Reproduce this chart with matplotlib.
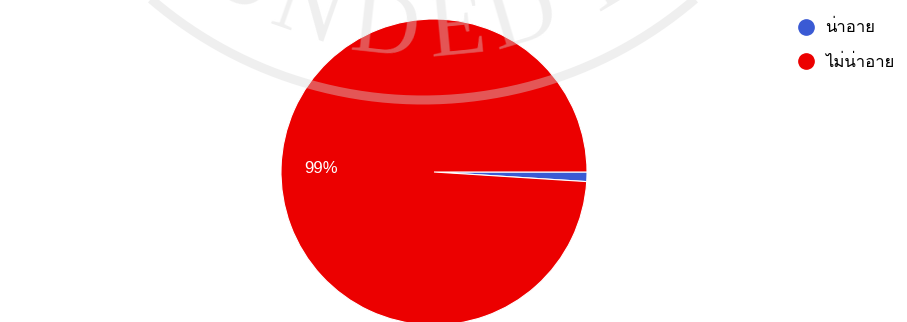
import numpy as np
import matplotlib
matplotlib.use('Agg')
import matplotlib.pyplot as plt
import matplotlib.font_manager as fm
from matplotlib.ft2font import FT2Font
from matplotlib.lines import Line2D

labels = ['น่าอาย', 'ไม่น่าอาย']
values = [1, 99]
colors = ['#3a5ad4', '#ec0000']


def find_thai_font():
    for f in fm.fontManager.ttflist:
        try:
            if 0x0E19 in FT2Font(f.fname).get_charmap():
                return f.name
        except Exception:
            pass
    return 'DejaVu Sans'


thai_font = find_thai_font()

W, H = 907, 322
fig = plt.figure(figsize=(W / 100, H / 100), dpi=100)

# pie: center (434, 172) px from top-left, radius 153 px
r = 153
ax = fig.add_axes([(434 - r) / W, (H - 172 - r) / H, 2 * r / W, 2 * r / H])
ax.pie(values, colors=colors, startangle=0, counterclock=False, radius=1,
       autopct=lambda p: f'{p:.0f}%' if p > 5 else '', pctdistance=0.74,
       textprops={'color': 'white', 'fontsize': 12, 'family': 'Liberation Sans'},
       wedgeprops={'edgecolor': 'white', 'linewidth': 0.8})
ax.set_xlim(-1, 1)
ax.set_ylim(-1, 1)
ax.set_aspect('equal')
ax.axis('off')

# legend
handles = [Line2D([], [], marker='o', linestyle='', markersize=11,
                  markerfacecolor=c, markeredgecolor=c) for c in colors]
fig.legend(handles, labels, loc='upper left', bbox_to_anchor=(776 / W, 1 - 7 / H),
           frameon=False, handletextpad=0.15, labelspacing=1.1, borderpad=0.3,
           prop={'family': [thai_font, 'DejaVu Sans'], 'size': 12})

# faint watermark left over from the scanned page
wm = fig.add_axes([0, 0, 1, 1], zorder=5)
wm.set_xlim(0, W)
wm.set_ylim(0, H)
wm.axis('off')
cx, cy = 423, H + 317
t = np.linspace(-np.pi / 2 - 0.9, -np.pi / 2 + 0.9, 200)
wm.plot(cx + 417 * np.cos(t), cy + 417 * np.sin(t), color='#d8d8d8', alpha=0.4,
        linewidth=6.5, solid_capstyle='butt')
for ch, dx in zip('ONDEDY', [-185, -116, -38, 34, 100, 179]):
    th = np.arcsin(dx / 350)
    wm.text(cx + 350 * np.sin(th), cy - 350 * np.cos(th), ch, rotation=np.degrees(th),
            ha='center', va='center', fontsize=68, family='Liberation Serif',
            color='#d8d8d8', alpha=0.4)

fig.savefig('out.png', dpi=100)
